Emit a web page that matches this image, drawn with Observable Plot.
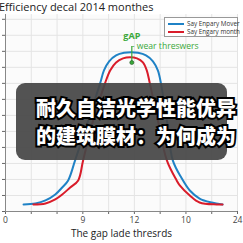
<!DOCTYPE html>
<html>
<head>
<meta charset="utf-8">
<script src="https://cdn.jsdelivr.net/npm/d3@7"></script>
<script src="https://cdn.jsdelivr.net/npm/@observablehq/plot@0.6"></script>
<style>
  html, body { margin: 0; padding: 0; background: #fff; }
  #wrap { position: relative; width: 243px; height: 243px; overflow: hidden; font-family: "Open Sans", "DejaVu Sans", sans-serif; }
  #title { position: absolute; left: -1px; top: -1px; font-size: 11px; color: #222; white-space: nowrap; }
  #legend { position: absolute; left: 164px; top: 17px; width: 72px; height: 18px; border: 1px solid #999; background: #fff; font-size: 6.3px; color: #333; }
  #legend .row { position: absolute; left: 3px; display: flex; align-items: center; white-space: nowrap; }
  #legend .sw { width: 16px; height: 2px; margin-right: 3px; }
  #overlay { position: absolute; left: 16px; top: 83px; width: 211px; height: 77px; border-radius: 9px; background: rgba(70,70,70,0.93); }
  #ovtext { position: absolute; left: 36px; top: 94px; font-family: "Noto Sans CJK SC", sans-serif; font-weight: 900; font-size: 20px; line-height: 28px; color: #fff; white-space: nowrap; -webkit-text-stroke: 4px #000; }
  #ovtext2 { position: absolute; left: 36px; top: 94px; font-family: "Noto Sans CJK SC", sans-serif; font-weight: 900; font-size: 20px; line-height: 28px; color: #fff; white-space: nowrap; }
</style>
</head>
<body>
<div id="wrap">
  <div id="chart"></div>
  <div id="title"></div>
  <div id="legend"></div>
  <div id="overlay"></div>
  <div id="ovtext"></div>
  <div id="ovtext2"></div>
</div>
<script>
// ---- data ----
const titleText = "Efficiency decal 2014 monthes";
const xAxisTitle = "The gap lade thresrds";
const xTickPositions = [0, 3, 5, 7, 9];
const xTickLabels = ["0", "9", "12", "10", "24"];
const seriesNames = ["Say Enpary Mover", "Say Engary month"];
const seriesColors = ["#1f82c6", "#d91c2a"];

const blueX = [0.70, 1.16, 1.55, 1.93, 2.20, 2.43, 2.70, 3.21, 3.67, 3.82, 4.02, 4.29, 4.60, 4.87, 5.14, 5.45, 5.72, 5.91, 6.03, 6.26, 6.49, 6.84, 7.15, 7.53, 8.00, 8.42];
const blueY = [0.44, 0.50, 0.69, 1.06, 1.50, 1.94, 3.19, 5.69, 8.00, 8.81, 9.38, 9.75, 9.91, 9.94, 9.91, 9.75, 9.38, 8.81, 8.00, 5.69, 3.19, 2.06, 1.31, 0.81, 0.56, 0.44];

const redX = [1.08, 1.55, 1.93, 2.20, 2.51, 2.82, 3.01, 3.40, 3.86, 4.06, 4.29, 4.56, 4.83, 5.10, 5.33, 5.48, 5.60, 5.91, 6.26, 6.64, 6.76, 7.15, 7.53, 8.19, 8.42];
const redY = [0.44, 0.50, 0.75, 1.06, 1.50, 1.94, 3.19, 5.69, 8.00, 8.81, 9.31, 9.56, 9.63, 9.56, 9.31, 8.81, 8.00, 5.69, 3.19, 1.94, 1.63, 1.00, 0.56, 0.44, 0.44];

const annoLabel1 = "gAP";
const annoLabel2 = "- wear threswers";
const annoX = [4.9];
const annoTop = [10.3];
const annoBottom = [9.3];
const overlayLines = ["耐久自洁光学性能优异", "的建筑膜材：为何成为"];

// ---- build tables ----
const blue = blueX.map((x, i) => ({x, y: blueY[i], s: seriesNames[0]}));
const red = redX.map((x, i) => ({x, y: redY[i], s: seriesNames[1]}));
const labelOf = new Map(xTickPositions.map((p, i) => [p, xTickLabels[i]]));
const green = "#3aa83a";

const chart = Plot.plot({
  width: 243,
  height: 243,
  marginLeft: 5,
  marginRight: 6,
  marginTop: 14,
  marginBottom: 32,
  style: {fontFamily: "'Open Sans', 'DejaVu Sans', sans-serif", background: "#fff"},
  x: {domain: [0, 9]},
  y: {domain: [0, 12.3]},
  marks: [
    Plot.frame({fill: "#fbfbfb", stroke: null}),
    Plot.gridX(d3.range(0, 10), {stroke: "#e4e4e4", strokeOpacity: 1}),
    Plot.gridY(d3.range(0, 13), {stroke: "#e4e4e4", strokeOpacity: 1}),
    Plot.axisY(d3.range(0, 13), {tickSize: 3, tickFormat: () => "", stroke: "#666", label: null}),
    Plot.axisX(d3.range(0, 10), {tickSize: 3, tickPadding: 2, fontSize: 8.5, fill: "#444", stroke: "#666",
      tickFormat: d => labelOf.get(d) ?? "", label: null}),
    Plot.ruleX([0], {stroke: "#888"}),
    Plot.ruleY([0], {stroke: "#888"}),
    Plot.line(blue, {x: "x", y: "y", stroke: seriesColors[0], strokeWidth: 2, curve: "catmull-rom"}),
    Plot.line(red, {x: "x", y: "y", stroke: seriesColors[1], strokeWidth: 2, curve: "catmull-rom"}),
    Plot.ruleX(annoX, {y1: annoTop, y2: annoBottom, stroke: green, strokeWidth: 1.2}),
    Plot.dot(annoX, {x: d => d, y: annoBottom, r: 2, fill: green, stroke: "#225522", strokeWidth: 0.6}),
    Plot.text(annoX, {x: d => d, y: annoTop, text: () => annoLabel1, fill: green, fontSize: 9, fontWeight: "bold", dy: -10, dx: 0}),
    Plot.text(annoX, {x: d => d, y: annoTop, text: () => annoLabel2, fill: green, fontSize: 8.6, textAnchor: "start", dx: 0, dy: 0}),
    Plot.text([xAxisTitle], {frameAnchor: "bottom", lineAnchor: "middle", text: d => d, fontSize: 10, fill: "#222", dy: 22})
  ]
});
document.getElementById("chart").appendChild(chart);
document.getElementById("title").textContent = titleText;

const leg = document.getElementById("legend");
seriesNames.forEach((n, i) => {
  const row = document.createElement("div");
  row.className = "row";
  row.style.top = (1 + i * 8) + "px";
  row.innerHTML = `<span class="sw" style="background:${seriesColors[i]}"></span><span>${n}</span>`;
  leg.appendChild(row);
});
document.getElementById("ovtext").innerHTML = overlayLines.join("<br>");
document.getElementById("ovtext2").innerHTML = overlayLines.join("<br>");
</script>
</body>
</html>
